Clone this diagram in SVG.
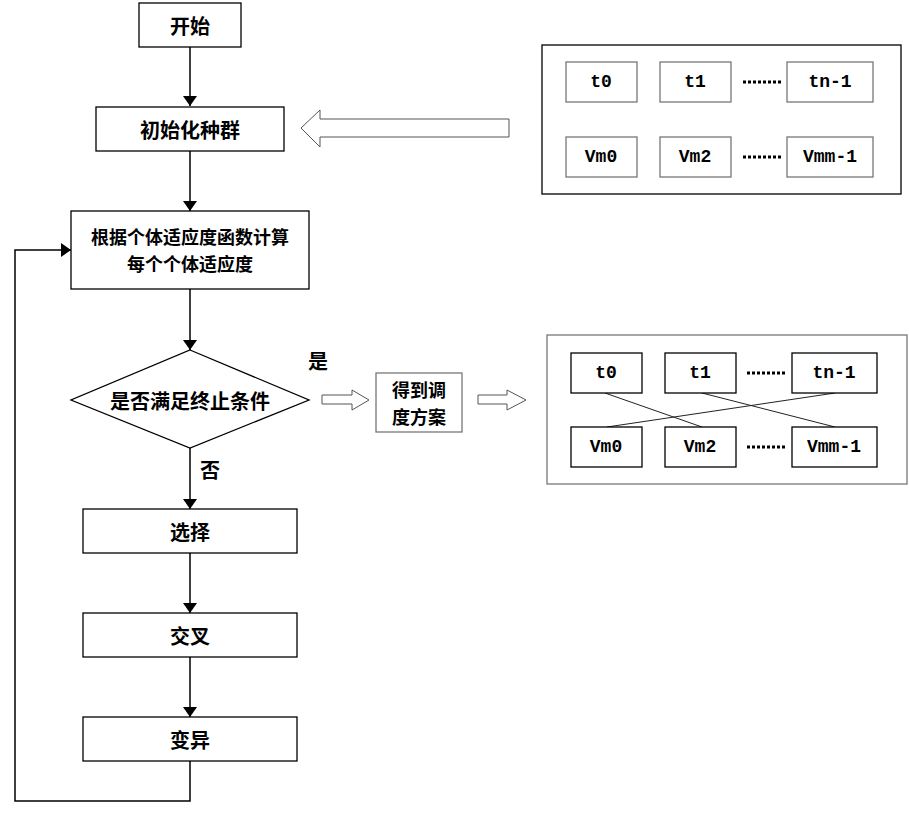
<svg xmlns="http://www.w3.org/2000/svg" width="909" height="815" viewBox="0 0 909 815">
<style>
.box{fill:#fff;stroke:#000;stroke-width:1.3}
.gbox{fill:#fff;stroke:#777;stroke-width:1.3}
.line{fill:none;stroke:#000;stroke-width:1.5}
.thin{fill:none;stroke:#222;stroke-width:1}
.hollow{fill:#fff;stroke:#555;stroke-width:1}
.cn{font-family:"Noto Sans CJK SC","Noto Sans CJK TC",sans-serif;font-weight:bold;font-size:20px;fill:#000;text-anchor:middle;dominant-baseline:central}
.cn2{font-size:18px}
.lab{font-family:"Liberation Mono",monospace;font-weight:bold;font-size:18px;fill:#000;text-anchor:middle;dominant-baseline:central}
.dots{stroke:#000;stroke-width:3;stroke-dasharray:3 2}
</style>
<defs>
<marker id="ah" viewBox="0 0 10 10" refX="10" refY="5" markerWidth="10" markerHeight="14" markerUnits="userSpaceOnUse" orient="auto" preserveAspectRatio="none">
<path d="M0,0 L10,5 L0,10 Z" fill="#000"/>
</marker>
</defs>
<g id="connectors">
<line class="line" x1="190" y1="47" x2="190" y2="106" marker-end="url(#ah)"/>
<line class="line" x1="190" y1="151" x2="190" y2="211" marker-end="url(#ah)"/>
<line class="line" x1="190" y1="289" x2="190" y2="350" marker-end="url(#ah)"/>
<line class="line" x1="190" y1="448" x2="190" y2="509" marker-end="url(#ah)"/>
<line class="line" x1="190" y1="553" x2="190" y2="613" marker-end="url(#ah)"/>
<line class="line" x1="190" y1="657" x2="190" y2="717" marker-end="url(#ah)"/>
<polyline class="line" points="190,761 190,801 15,801 15,250 71,250" marker-end="url(#ah)"/>
<polygon class="hollow" points="301,128 320,110 320,119 509,119 509,137 320,137 320,147"/>
<polygon class="hollow" points="369,400 352,390 352,395 322,395 322,404 352,404 352,410"/>
<polygon class="hollow" points="526,400 507,390 507,395 478,395 478,404 507,404 507,410"/>
<text class="cn" x="318" y="360">是</text>
<text class="cn" x="210" y="469">否</text>
</g>
<g id="start"><rect class="box" x="139" y="3" width="102" height="44"/><text class="cn" x="190" y="25">开始</text></g>
<g id="init"><rect class="box" x="96" y="107" width="188" height="44"/><text class="cn" x="190" y="129">初始化种群</text></g>
<g id="fitness"><rect class="box" x="71" y="211" width="238" height="78"/><text class="cn cn2" x="190" y="236"><tspan x="190" y="236">根据个体适应度函数计算</tspan><tspan x="190" y="263">每个个体适应度</tspan></text></g>
<g id="decision"><polygon class="box" points="190,350 309,400 190,448 71,400"/><text class="cn" x="190" y="400">是否满足终止条件</text></g>
<g id="result"><rect class="gbox" x="376" y="373" width="86" height="59"/><text class="cn cn2" x="419" y="389"><tspan x="419" y="389">得到调</tspan><tspan x="419" y="416">度方案</tspan></text></g>
<g id="select"><rect class="box" x="83" y="509" width="214" height="44"/><text class="cn" x="190" y="531">选择</text></g>
<g id="cross"><rect class="box" x="83" y="613" width="214" height="44"/><text class="cn" x="190" y="635">交叉</text></g>
<g id="mutate"><rect class="box" x="83" y="717" width="214" height="44"/><text class="cn" x="190" y="739">变异</text></g>
<g id="panel1">
<rect class="box" x="542" y="45" width="359" height="149"/>
<rect class="gbox" x="566" y="62" width="71" height="40"/><text class="lab" x="601" y="82">t0</text>
<rect class="gbox" x="660" y="62" width="71" height="40"/><text class="lab" x="695" y="82">t1</text>
<line class="dots" x1="743" y1="82" x2="781" y2="82"/>
<rect class="gbox" x="787" y="62" width="86" height="40"/><text class="lab" x="830" y="82">tn-1</text>
<rect class="gbox" x="566" y="137" width="71" height="40"/><text class="lab" x="601" y="157">Vm0</text>
<rect class="gbox" x="660" y="137" width="71" height="40"/><text class="lab" x="695" y="157">Vm2</text>
<line class="dots" x1="743" y1="157" x2="781" y2="157"/>
<rect class="gbox" x="787" y="137" width="86" height="40"/><text class="lab" x="830" y="157">Vmm-1</text>
</g>
<g id="panel2">
<rect class="gbox" x="547" y="335" width="360" height="149"/>
<line class="thin" x1="605" y1="393" x2="702" y2="427"/>
<line class="thin" x1="835" y1="393" x2="607" y2="427"/>
<line class="thin" x1="702" y1="393" x2="835" y2="427"/>
<rect class="box" x="571" y="353" width="71" height="40"/><text class="lab" x="606" y="373">t0</text>
<rect class="box" x="665" y="353" width="71" height="40"/><text class="lab" x="700" y="373">t1</text>
<line class="dots" x1="747" y1="373" x2="785" y2="373"/>
<rect class="box" x="792" y="353" width="85" height="40"/><text class="lab" x="834" y="373">tn-1</text>
<rect class="box" x="571" y="427" width="71" height="40"/><text class="lab" x="606" y="447">Vm0</text>
<rect class="box" x="665" y="427" width="71" height="40"/><text class="lab" x="700" y="447">Vm2</text>
<line class="dots" x1="747" y1="447" x2="785" y2="447"/>
<rect class="box" x="792" y="427" width="85" height="40"/><text class="lab" x="834" y="447">Vmm-1</text>
</g>
</svg>
